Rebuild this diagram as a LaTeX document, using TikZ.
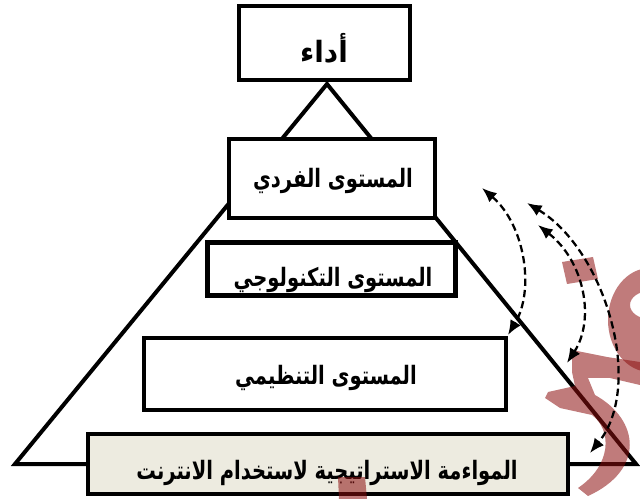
\documentclass[tikz,border=0pt]{standalone}
\usepackage{fontspec}
\newfontfamily\arabicfont[Script=Arabic]{DejaVu Sans}
\TeXXeTstate=1
\usetikzlibrary{arrows.meta}
\definecolor{boxbeige}{RGB}{237,235,224}
\definecolor{wmark}{RGB}{140,15,15}
\newcommand{\artxt}[1]{\scalebox{0.77}[1]{\arabicfont\bfseries\fontsize{19pt}{21pt}\selectfont\beginR #1\endR}}
\newcommand{\artxtbig}[1]{\scalebox{0.95}[1]{\arabicfont\bfseries\fontsize{22pt}{24pt}\selectfont\beginR #1\endR}}
\begin{document}
\begin{tikzpicture}[x=0.75pt,y=-0.75pt,
  boxnode/.style={draw=black, fill=white, rectangle, inner sep=0pt, line width=3.2pt},
  lbl/.style={inner sep=0pt},
  dasharrow/.style={line width=1.7pt, dash pattern=on 5.5pt off 3pt,
     {Latex[length=11pt,width=9pt]}-{Latex[length=11pt,width=9pt]}},
  wm/.style={fill=wmark, opacity=0.55, draw=none}]
\useasboundingbox (0,0) rectangle (640,499);
% pyramid
\coordinate (apex) at (327,84);
\coordinate (bl) at (15,464);
\coordinate (br) at (636,464);
\draw[line width=3pt, line join=miter] (bl) -- (apex) -- (br) -- cycle;
% boxes
\node[boxnode, minimum width=128.25pt, minimum height=55.5pt] (top) at (324.5,43) {};
\node[boxnode, minimum width=154.5pt, minimum height=59.25pt] (b1) at (332,178.5) {};
\node[boxnode, line width=3.6pt, minimum width=186pt, minimum height=39.75pt] (b2) at (331.5,269) {};
\node[boxnode, line width=2.6pt, minimum width=271.5pt, minimum height=54pt] (b3) at (325,374) {};
\node[boxnode, fill=boxbeige, minimum width=360pt, minimum height=45pt] (b4) at (328,464) {};
% labels
\node[lbl] (t0) at (324,48) {\artxtbig{أداء}};
\node[lbl] (t1) at (333,181) {\artxt{المستوى الفردي}};
\node[lbl] (t2) at (333,280) {\artxt{المستوى التكنولوجي}};
\node[lbl] (t3) at (326,378) {\artxt{المستوى التنظيمي}};
\node[lbl] (t4) at (327,473) {\artxt{المواءمة الاستراتيجية لاستخدام الانترنت}};
% watermark
\fill[wm] (562,262) -- (593,257) -- (598,279) -- (567,284) -- cycle;
\fill[wm] (338,477) -- (365,477) -- (367,499) -- (339,499) -- cycle;
\fill[wm, even odd rule] (650,320) ellipse [x radius=42, y radius=52] (650,305) ellipse [x radius=20, y radius=14];
\fill[wm] (572,350) -- (607,357) -- (640,362) -- (640,385) -- (610,378) -- (588,378)
  -- (595,395) .. controls (640,420) and (645,470) .. (588,496)
  -- (578,488) .. controls (612,465) and (612,430) .. (592,415)
  -- (560,408) -- (545,398) -- (548,392) -- (575,386) -- (572,372) -- cycle;
% dashed arrows
\coordinate (a1s) at (482,188); \coordinate (a1e) at (508,335);
\coordinate (a2s) at (527,203); \coordinate (a2e) at (590,453);
\coordinate (a3s) at (538,225); \coordinate (a3e) at (567,363);
\draw[dasharrow] (a1s) .. controls (525,225) and (535,290) .. (a1e);
\draw[dasharrow] (a2s) .. controls (605,250) and (645,385) .. (a2e);
\draw[dasharrow] (a3s) .. controls (585,262) and (595,320) .. (a3e);
\end{tikzpicture}
\end{document}
